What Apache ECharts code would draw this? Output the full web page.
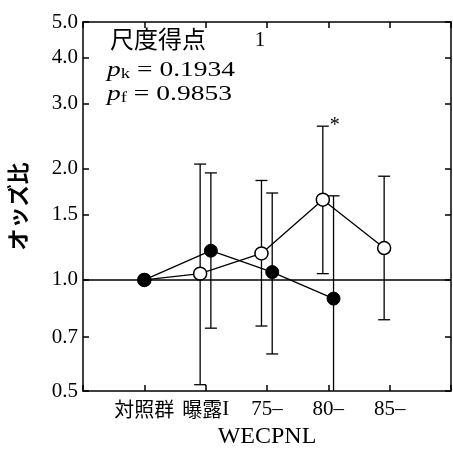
<!DOCTYPE html>
<html>
<head>
<meta charset="utf-8">
<script src="https://cdn.jsdelivr.net/npm/echarts@6/dist/echarts.min.js"></script>
<style>
  html, body { margin: 0; padding: 0; background: #fff; }
  #chart { width: 453px; height: 450px; }
</style>
</head>
<body>
<div id="chart"></div>
<script>
const categories = ['対照群', '曝露I', '75–', '80–', '85–'];
const yTicks = [0.5, 0.7, 1.0, 1.5, 2.0, 3.0, 4.0, 5.0];

// filled circles
const filledOdds = [1.0, 1.20, 1.05, 0.89];
const filledLow = [null, 0.74, 0.63, 0.45];
const filledHigh = [null, 1.95, 1.72, 1.69];

// open circles
const openOdds = [1.0, 1.04, 1.18, 1.65, 1.22];
const openLow = [null, 0.52, 0.75, 1.04, 0.78];
const openHigh = [null, 2.06, 1.86, 2.61, 1.91];
const openSignificant = [false, false, false, true, false];

const scoreLabel = '尺度得点';
const scoreValue = '1';
const pK = '0.1934';
const pF = '0.9853';

const SERIF = '"Liberation Serif", "Times New Roman", serif';
const GOTHIC = '"Noto Sans CJK JP", sans-serif';
const OPEN_SHIFT = -0.09;
const FILLED_SHIFT = 0.085;

const lg = v => Math.log10(v);
// reference group sits on the category, the others are nudged apart
const xPos = (i, shift) => (i === 0 ? 0 : i + shift);

const pointData = (odds, shift) => odds.map((v, i) => [xPos(i, shift), lg(v)]);

function barData(low, high, shift, sig) {
  const out = [];
  low.forEach((lo, i) => {
    if (lo == null) return;
    out.push([xPos(i, shift), lg(lo), lg(high[i]), sig && sig[i] ? 1 : 0]);
  });
  return out;
}

function renderBar(params, api) {
  const x = api.value(0);
  const [cx, top] = api.coord([x, api.value(2)]);
  let bottom = api.coord([x, api.value(1)])[1];
  const floor = params.coordSys.y + params.coordSys.height;
  const clipped = bottom > floor;
  if (clipped) bottom = floor;
  const cap = 6;
  const style = { stroke: '#000', lineWidth: 1.3 };
  const children = [
    { type: 'line', shape: { x1: cx, y1: top, x2: cx, y2: bottom }, style },
    { type: 'line', shape: { x1: cx - cap, y1: top, x2: cx + cap, y2: top }, style }
  ];
  if (!clipped) {
    children.push({ type: 'line', shape: { x1: cx - cap, y1: bottom, x2: cx + cap, y2: bottom }, style });
  }
  if (api.value(3)) {
    children.push({
      type: 'text', x: cx + 12, y: top,
      style: { text: '*', font: '20px ' + SERIF, fill: '#000', align: 'center', verticalAlign: 'middle' }
    });
  }
  return { type: 'group', children };
}

function catLabel(v) {
  const i = Math.round(v);
  if (Math.abs(i - v) > 1e-6 || i < 0 || i >= categories.length) return '';
  return categories[i].replace(/([\u3000-\u9fff]+)|([^\u3000-\u9fff]+)/g,
    (m, j) => (j ? '{j|' + m + '}' : '{s|' + m + '}'));
}

const axisLine = { show: true, onZero: false, lineStyle: { color: '#000', width: 1.5 } };
const axisTick = { show: true, inside: true, length: 6, lineStyle: { color: '#000', width: 1.5 } };
const yTickValues = yTicks.map(lg);

const pRich = {
  p: { fontFamily: SERIF, fontStyle: 'italic', fontSize: 22, lineHeight: 24, fill: '#000' },
  b: { fontFamily: SERIF, fontSize: 15, lineHeight: 18, verticalAlign: 'bottom', fill: '#000' },
  t: { fontFamily: SERIF, fontSize: 22, lineHeight: 24, fill: '#000' }
};

const chart = echarts.init(document.getElementById('chart'));

const option = {
  animation: false,
  grid: { left: 83, top: 22, width: 368, height: 369, outerBoundsMode: 'none' },
  xAxis: [
    {
      type: 'value', position: 'bottom', min: -1, max: 5, interval: 1,
      axisLine, axisTick, splitLine: { show: false },
      axisLabel: {
        margin: 6,
        formatter: catLabel,
        rich: {
          j: { fontFamily: GOTHIC, fontSize: 20, color: '#000', lineHeight: 24 },
          s: { fontFamily: SERIF, fontSize: 21, color: '#000', lineHeight: 24 }
        }
      },
      name: 'WECPNL', nameLocation: 'middle', nameGap: 34,
      nameTextStyle: { fontFamily: SERIF, fontSize: 24, color: '#000' }
    },
    {
      type: 'value', position: 'top', min: -1, max: 5, interval: 1,
      axisLine, axisTick, splitLine: { show: false }, axisLabel: { show: false }
    }
  ],
  yAxis: [
    {
      type: 'value', position: 'left', min: lg(0.5), max: lg(5),
      axisLine, splitLine: { show: false },
      axisTick: Object.assign({ customValues: yTickValues }, axisTick),
      axisLabel: {
        customValues: yTickValues, margin: 5,
        fontFamily: SERIF, fontSize: 21, color: '#000',
        formatter: v => Math.pow(10, v).toFixed(1)
      },
      name: 'オッズ比', nameLocation: 'middle', nameGap: 54,
      nameTextStyle: { fontFamily: GOTHIC, fontSize: 22, fontWeight: 'bold', color: '#000' }
    },
    {
      type: 'value', position: 'right', min: lg(0.5), max: lg(5),
      axisLine, splitLine: { show: false },
      axisTick: Object.assign({ customValues: yTickValues }, axisTick),
      axisLabel: { show: false }
    }
  ],
  series: [
    {
      type: 'custom', renderItem: renderBar, z: 1,
      data: barData(openLow, openHigh, OPEN_SHIFT, openSignificant),
      markLine: {
        silent: true, symbol: 'none', label: { show: false },
        lineStyle: { color: '#000', width: 1.5, type: 'solid' },
        data: [{ yAxis: lg(1) }]
      }
    },
    {
      type: 'custom', renderItem: renderBar, z: 1,
      data: barData(filledLow, filledHigh, FILLED_SHIFT)
    },
    {
      type: 'line', z: 2, data: pointData(openOdds, OPEN_SHIFT),
      symbol: 'circle', symbolSize: 13,
      lineStyle: { color: '#000', width: 1.3 },
      itemStyle: { color: '#fff', borderColor: '#000', borderWidth: 1.5 }
    },
    {
      type: 'line', z: 3, data: pointData(filledOdds, FILLED_SHIFT),
      symbol: 'circle', symbolSize: 13,
      lineStyle: { color: '#000', width: 1.3 },
      itemStyle: { color: '#000', borderColor: '#000', borderWidth: 1 }
    }
  ],
  graphic: [
    {
      type: 'text', x: 110, y: 39,
      style: { text: scoreLabel, font: '24px ' + GOTHIC, fill: '#000', verticalAlign: 'middle' }
    },
    {
      type: 'text', x: 260, y: 40,
      style: { text: scoreValue, font: '21px ' + SERIF, fill: '#000', align: 'center', verticalAlign: 'middle' }
    },
    {
      type: 'text', x: 107, y: 70, scaleX: 1.25,
      style: { text: '{p|p}{b|k}{t| = ' + pK + '}', verticalAlign: 'middle', rich: pRich }
    },
    {
      type: 'text', x: 107, y: 94, scaleX: 1.25,
      style: { text: '{p|p}{b|f}{t| = ' + pF + '}', verticalAlign: 'middle', rich: pRich }
    }
  ]
};

chart.setOption(option);
window.addEventListener('resize', () => chart.resize());
</script>
</body>
</html>
